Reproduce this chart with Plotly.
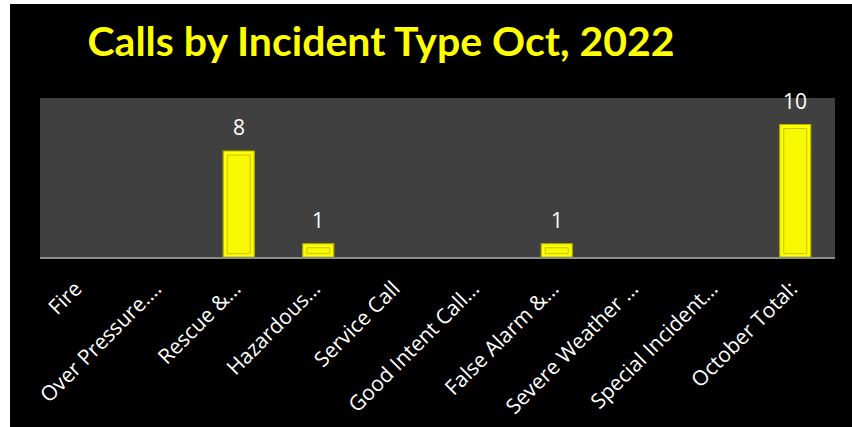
import plotly.graph_objects as go

categories = ["Fire", "Over Pressure….", "Rescue &…", "Hazardous…", "Service Call",
              "Good Intent Call…", "False Alarm &…", "Severe Weather …",
              "Special Incident…", "October Total:"]
values = [0, 0, 8, 1, 0, 0, 1, 0, 0, 10]
title_text = "Calls by Incident Type Oct, 2022"

inner_base = [0.25 if v > 0 else None for v in values]
inner_h = [v - 0.55 if v > 0 else None for v in values]
outline_w = [1.2 if v > 0 else 0 for v in values]

fig = go.Figure()
fig.add_trace(go.Bar(
    x=categories, y=values, width=0.39,
    marker=dict(color="#ffff00", line=dict(color="#b5b500", width=outline_w)),
    hoverinfo="skip", showlegend=False,
))
fig.add_trace(go.Bar(
    x=categories, y=inner_h, base=inner_base, width=0.29,
    marker=dict(color="#f8f800", line=dict(color="#c4c400", width=1)),
    hoverinfo="skip", showlegend=False,
))

for c, v in zip(categories, values):
    if v > 0:
        fig.add_annotation(x=c, y=v, text=str(v), showarrow=False,
                           yanchor="bottom", yshift=8,
                           font=dict(family="Open Sans", size=21, color="white"))

# white frame on the left and top edges of the black background
fig.add_shape(type="rect", xref="paper", yref="paper", layer="above",
              x0=-0.1, x1=-0.0377, y0=-1.2, y1=1.8,
              fillcolor="white", line=dict(width=0))
fig.add_shape(type="rect", xref="paper", yref="paper", layer="above",
              x0=-0.1, x1=1.1, y0=1.591, y1=1.8,
              fillcolor="white", line=dict(width=0))

fig.update_layout(
    width=852, height=427, autosize=False,
    margin=dict(l=40, r=17, t=98, b=170),
    paper_bgcolor="black", plot_bgcolor="#404040",
    barmode="overlay",
    title=dict(text="<b>" + title_text + "</b>", x=0.429, xref="paper", xanchor="center",
               y=1 - 42 / 427, yanchor="middle",
               font=dict(family="Lato", size=41, color="#ffff00")),
    xaxis=dict(tickangle=-45, showgrid=False, showline=True, linecolor="#8c8c8c", linewidth=2,
               tickfont=dict(family="Open Sans", size=21, color="white"),
               ticks="", ticklabelstandoff=9, ticklabelshift=-4, automargin=False),
    yaxis=dict(range=[0, 12], visible=False, showgrid=False, zeroline=False, automargin=False),
)

fig.write_html("out.html", config={"displayModeBar": False},
               post_script="document.body.style.margin='0';")
